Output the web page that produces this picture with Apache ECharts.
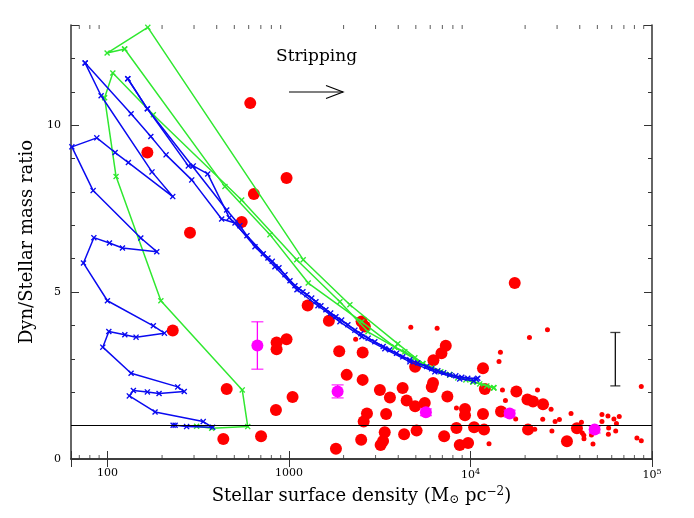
<!DOCTYPE html>
<html>
<head>
<meta charset="utf-8">
<script src="https://cdn.jsdelivr.net/npm/echarts@6.0.0/dist/echarts.min.js"></script>
<style>
html, body { margin: 0; padding: 0; background: #fff; }
#chart { width: 694px; height: 518px; }
</style>
</head>
<body>
<div id="chart"></div>
<script>
// model tracks (surface density, dyn/stellar ratio)
var blueTrackA = [[75.4,11.86],[92.3,10.88],[176,8.60],[229,7.86],[130.5,8.88],[110.3,9.18],[87.4,9.62],[63.7,9.35],[83.4,8.04],[152.7,6.62],[187,6.21],[121,6.32],[102.6,6.47],[84.2,6.63],[73.8,5.87],[100,4.74],[179,3.99],[206,3.77],[143.8,3.65],[124.7,3.72],[101.8,3.82],[94.3,3.35],[135,2.57],[244,2.16],[265,2.02],[192.5,1.96],[166,2.01],[139,2.05],[132,1.89],[183,1.41],[337,1.12],[380,0.95],[273,0.97],[236,1.01],[230,1.01]];
var blueTrackB = [[75.4,11.86],[135,10.34],[173.4,9.66],[210.4,9.11],[291.4,8.36],[426,7.19],[504.5,7.07],[650,6.36],[837,5.76],[1107,5.07],[1445,4.59],[1909,4.11],[2522,3.66],[3376,3.30],[4634,2.91],[6362,2.61],[8730,2.40],[10420,2.34]];
var blueTrackC = [[129.5,11.39],[166,10.49],[279,8.78],[297,8.78],[357,8.54],[469,7.23],[722,6.15],[809,5.92],[951,5.52],[1079,5.19],[1194,5.01],[1334,4.82],[1500,4.59],[1697,4.37],[1950,4.16],[2308,3.86],[2732,3.62],[3304,3.37],[3915,3.17],[4634,2.97],[5728,2.77],[6607,2.64],[7691,2.52],[8954,2.45],[10790,2.39]];
var blueTrackE = [[129.5,11.39],[166,10.49],[454,7.46],[537,6.99],[587,6.69],[766,6.02],[881,5.73],[1013,5.34],[1135,5.10],[1256,4.92],[1408,4.71],[1598,4.47],[1814,4.26],[2112,4.02],[2490,3.75],[2972,3.51],[3592,3.27],[4236,3.06],[5121,2.88],[6116,2.70],[7120,2.58],[8300,2.49],[9660,2.42],[10970,2.42]];

var greenTrack1 = [[310,0.98],[375.5,0.92],[593,0.97],[553,2.07],[197,4.74],[111.6,8.46],[96.5,10.82],[107.1,11.56],[179,10.31],[549,7.76],[1103,5.97],[1909,4.71],[2722,3.81],[3831,3.35],[4348,3.21],[4937,3.03],[5464,2.85],[6124,2.73],[6863,2.61],[7691,2.52],[8511,2.43],[9434,2.37],[10310,2.31],[11250,2.25],[12300,2.19],[13440,2.13]];
var greenTrack2 = [[124.4,12.28],[444,8.16],[786,6.72],[1277,5.27],[2522,4.11],[3831,3.35],[5464,2.85],[7691,2.52],[10310,2.31],[13440,2.13]];
var greenTrack3 = [[124.4,12.28],[99.6,12.16],[166.9,12.93],[1198,5.97],[2166,4.62],[3981,3.45],[5464,2.86],[7691,2.53],[10310,2.32],[13440,2.14]];

// observed galaxies
var redLarge = [[612,10.66],[166,9.18],[970,8.42],[641,7.94],[549,7.10],[285,6.78],[1268,4.60],[1660,4.14],[2512,4.12],[2618,3.97],[855,3.49],[970,3.59],[855,3.29],[229,3.85],[1892,3.23],[2547,3.19],[2080,2.52],[2547,2.37],[454,2.10],[1047,1.86],[848,1.47],[435,0.60],[702,0.68],[1815,0.31],[2500,0.58],[2580,1.12],[2690,1.36],[3430,1.35],[3170,2.07],[3600,1.84],[4230,2.13],[4450,1.75],[4955,1.58],[5600,1.68],[4955,2.76],[6250,2.96],[6920,3.17],[7310,3.39],[6220,2.28],[6120,2.16],[7460,1.87],[9330,1.50],[9330,1.31],[11720,1.35],[11720,2.72],[12000,2.10],[14730,1.42],[17900,2.02],[17530,5.27],[20600,1.78],[22100,1.72],[25100,1.64],[20750,0.88],[38600,0.92],[34000,0.53],[8370,0.93],[10470,0.95],[11880,0.88],[5050,0.85],[4310,0.74],[3370,0.80],[7160,0.68],[3300,0.54],[3200,0.42],[8730,0.42],[9700,0.48]];
var redSmall = [[2330,3.59],[4690,3.95],[6550,3.92],[14620,3.20],[14360,2.92],[26550,3.87],[21130,3.64],[15000,2.07],[23400,2.07],[15580,1.75],[27800,1.49],[17750,1.20],[25000,1.19],[29250,1.12],[30900,1.18],[35800,1.36],[40860,1.10],[53000,1.33],[57200,1.29],[61700,1.20],[66000,1.27],[53000,1.12],[63700,1.06],[22600,0.89],[28100,0.84],[41300,0.78],[42100,0.71],[42200,0.61],[57700,0.93],[63100,0.84],[57500,0.74],[46400,0.72],[47300,0.45],[87300,2.17],[82600,0.63],[87300,0.55],[12650,0.46],[8370,1.53]];

var magentaPoints = [[670,3.40],[1854,2.02],[5680,1.40],[16440,1.36],[48300,0.88]];
var magentaLow = [2.69,1.83,1.30,1.26,0.78];
var magentaHigh = [4.11,2.22,1.50,1.46,0.98];

var typicalErrX = 62800;
var typicalErrLow = 2.19;
var typicalErrHigh = 3.79;

var xMajorTicks = [100, 1000, 10000, 100000];
var xMinorTicks = [70,80,90,200,300,400,500,600,700,800,900,2000,3000,4000,5000,6000,7000,8000,9000,20000,30000,40000,50000,60000,70000,80000,90000];
var yLabelValues = [0, 5, 10];

var FONT = 'DejaVu Serif';
var XMARK = 'path://M0,1.6L1.6,0L5,3.4L8.4,0L10,1.6L6.6,5L10,8.4L8.4,10L5,6.6L1.6,10L0,8.4L3.4,5Z';
var BLUE = '#0a0af0';
var GREEN = '#30e830';

function track(data, color, z) {
	return {
		type: 'line',
		data: data,
		z: z,
		symbol: XMARK,
		symbolSize: 6,
		lineStyle: { color: color, width: 1.5 },
		itemStyle: { color: color },
		animation: false
	};
}

function errorBar(x, lo, hi, color, capW, z) {
	return [{
		type: 'line',
		data: [[x, lo], [x, hi]],
		symbol: 'none',
		z: z,
		lineStyle: { color: color, width: 1.3 },
		animation: false
	}, {
		type: 'scatter',
		data: [[x, lo], [x, hi]],
		symbol: 'rect',
		symbolSize: [capW, 1.3],
		itemStyle: { color: color },
		z: z,
		clip: false,
		animation: false
	}];
}

var chart = echarts.init(document.getElementById('chart'));

var series = [];
series.push({
	type: 'scatter',
	data: redLarge,
	symbolSize: 12,
	itemStyle: { color: '#ff0000', opacity: 1 },
	z: 1,
	animation: false,
	markLine: {
		silent: true,
		symbol: ['none', 'none'],
		label: { show: false },
		lineStyle: { color: '#000', width: 1.2, type: 'solid' },
		data: [{ yAxis: 1 }]
	}
});
series.push({
	type: 'scatter',
	data: redSmall,
	symbolSize: 5,
	itemStyle: { color: '#ff0000', opacity: 1 },
	z: 1,
	animation: false
});
series.push(track(greenTrack1, GREEN, 2));
series.push(track(greenTrack2, GREEN, 2));
series.push(track(greenTrack3, GREEN, 2));
series.push(track(blueTrackA, BLUE, 3));
series.push(track(blueTrackB, BLUE, 3));
series.push(track(blueTrackC, BLUE, 3));
series.push(track(blueTrackE, BLUE, 3));

for (var i = 0; i < magentaPoints.length; i++) {
	series = series.concat(errorBar(magentaPoints[i][0], magentaLow[i], magentaHigh[i], '#ff00ff', 12, 4));
}
series.push({
	type: 'scatter',
	data: magentaPoints,
	symbolSize: 12,
	itemStyle: { color: '#ff00ff', opacity: 1 },
	z: 5,
	animation: false
});
series = series.concat(errorBar(typicalErrX, typicalErrLow, typicalErrHigh, '#111', 10, 4));

// minor ticks of the log axis, bottom and top
series.push({
	type: 'scatter',
	data: xMinorTicks.map(function (v) { return [v, 0]; }),
	symbol: 'rect',
	symbolSize: [1, 4],
	symbolOffset: [0, -2],
	itemStyle: { color: '#333' },
	clip: false,
	silent: true,
	z: 6,
	animation: false
});
series.push({
	type: 'scatter',
	data: xMinorTicks.map(function (v) { return [v, 13]; }),
	symbol: 'rect',
	symbolSize: [1, 4],
	symbolOffset: [0, 2],
	itemStyle: { color: '#333' },
	clip: false,
	silent: true,
	z: 6,
	animation: false
});

function xLabel(v) {
	for (var k = 0; k < xMajorTicks.length; k++) {
		if (Math.abs(v - xMajorTicks[k]) / xMajorTicks[k] < 1e-6) {
			var e = Math.round(Math.log10(xMajorTicks[k]));
			if (e <= 3) return String(xMajorTicks[k]);
			return '{b|10}{s|' + e + '}';
		}
	}
	return '';
}

var axisLineStyle = { lineStyle: { color: '#333', width: 1.5 } };

var option = {
	backgroundColor: '#fff',
	animation: false,
	grid: { left: 71, right: 42, top: 25, bottom: 59 },
	xAxis: [{
		type: 'log',
		min: 63,
		max: 100000,
		position: 'bottom',
		axisLine: axisLineStyle,
		axisTick: { inside: true, length: 8, lineStyle: { color: '#333' } },
		splitLine: { show: false },
		axisLabel: {
			formatter: xLabel,
			fontFamily: FONT,
			fontSize: 11,
			color: '#000',
			margin: 9,
			rich: {
				b: { fontFamily: FONT, fontSize: 11, color: '#000' },
				s: { fontFamily: FONT, fontSize: 8, color: '#000', padding: [0, 0, 7, 0] }
			}
		},
		name: 'Stellar surface density (M{sub|\u2299} pc{sup|\u22122})',
		nameLocation: 'middle',
		nameGap: 27,
		nameTextStyle: {
			fontFamily: FONT,
			fontSize: 18,
			color: '#000',
			rich: {
				sub: { fontFamily: FONT, fontSize: 12, color: '#000', padding: [6, 0, 0, 0] },
				sup: { fontFamily: FONT, fontSize: 12, color: '#000', padding: [0, 0, 9, 0] }
			}
		}
	}, {
		type: 'log',
		min: 63,
		max: 100000,
		position: 'top',
		axisLine: axisLineStyle,
		axisTick: { inside: true, length: 8, lineStyle: { color: '#333' } },
		axisLabel: { show: false },
		splitLine: { show: false }
	}],
	yAxis: [{
		type: 'value',
		min: 0,
		max: 13,
		interval: 5,
		position: 'left',
		axisLine: axisLineStyle,
		axisTick: { inside: true, length: 8, lineStyle: { color: '#333' } },
		minorTick: { show: true, splitNumber: 5, length: 4, lineStyle: { color: '#333' } },
		splitLine: { show: false },
		axisLabel: {
			formatter: function (v) { return yLabelValues.indexOf(v) >= 0 ? String(v) : ''; },
			fontFamily: FONT,
			fontSize: 11,
			color: '#000',
			margin: 10
		},
		name: 'Dyn/Stellar mass ratio',
		nameLocation: 'middle',
		nameGap: 32,
		nameTextStyle: { fontFamily: FONT, fontSize: 18, color: '#000' }
	}, {
		type: 'value',
		min: 0,
		max: 13,
		interval: 5,
		position: 'right',
		axisLine: axisLineStyle,
		axisTick: { inside: true, length: 8, lineStyle: { color: '#333' } },
		minorTick: { show: true, splitNumber: 5, length: 4, lineStyle: { color: '#333' } },
		splitLine: { show: false },
		axisLabel: { show: false }
	}],
	graphic: [{
		type: 'text',
		left: 276,
		top: 48,
		style: { text: 'Stripping', font: '17px "DejaVu Serif"', fill: '#000' }
	}, {
		type: 'polyline',
		shape: { points: [[289, 92], [343, 92]] },
		style: { stroke: '#000', lineWidth: 1.2, fill: null }
	}, {
		type: 'polyline',
		shape: { points: [[326, 85.5], [343, 92], [326, 98.5]] },
		style: { stroke: '#000', lineWidth: 1.2, fill: null }
	}],
	series: series
};

chart.setOption(option);
</script>
</body>
</html>
